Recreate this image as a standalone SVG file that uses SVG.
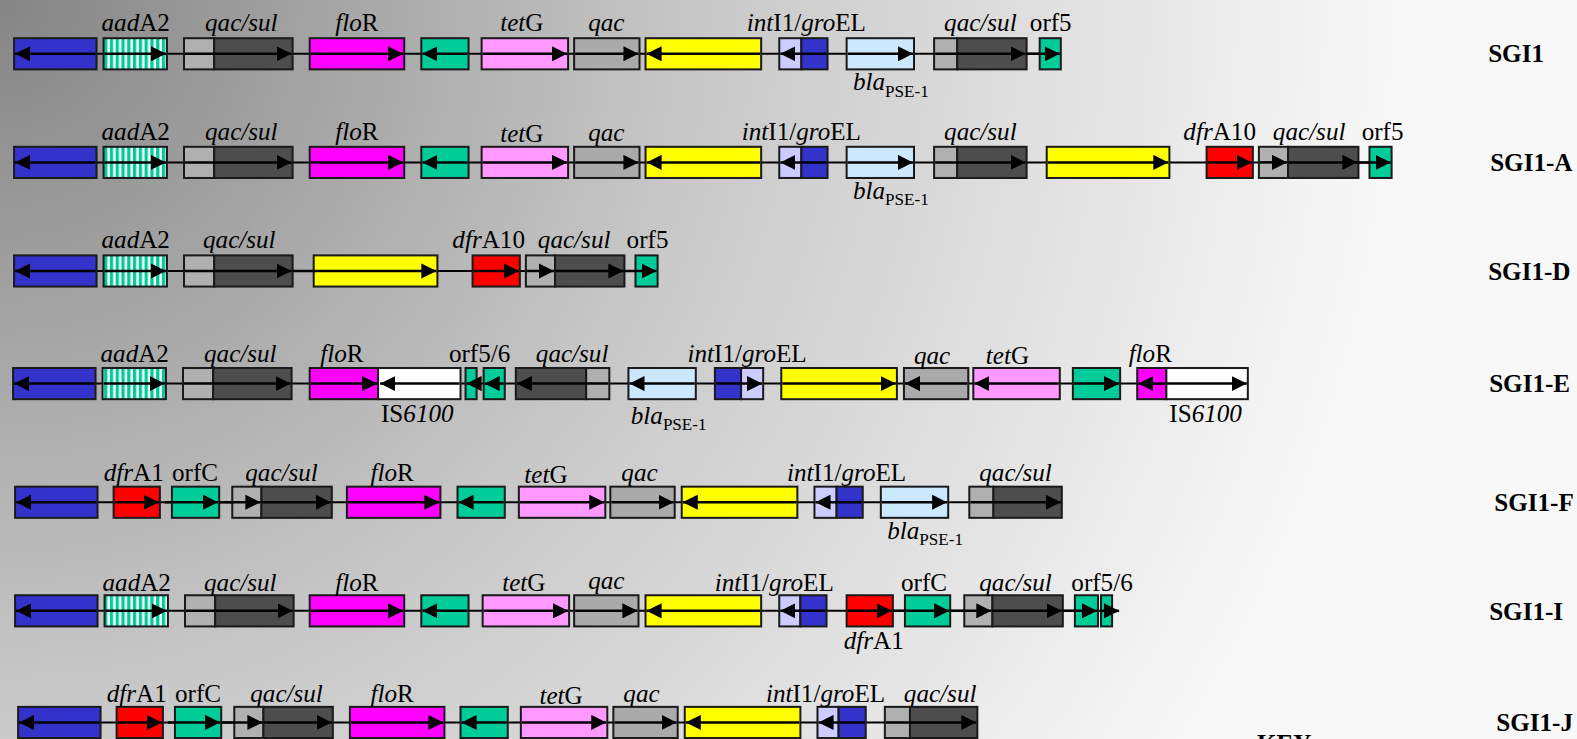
<svg xmlns="http://www.w3.org/2000/svg" width="1577" height="739" viewBox="0 0 1577 739">
<defs>
<radialGradient id="bg" gradientUnits="userSpaceOnUse" cx="0" cy="0" r="1400">
<stop offset="0" stop-color="#858585"/><stop offset="0.5" stop-color="#c8c8c8"/><stop offset="1" stop-color="#f8f8f8"/>
</radialGradient>
<pattern id="stripe" width="5.75" height="10" patternUnits="userSpaceOnUse"><rect width="5.75" height="10" fill="#fff"/><rect width="3.3" height="10" fill="#00cc99"/></pattern>
<marker id="ah" markerUnits="userSpaceOnUse" markerWidth="15" markerHeight="15" viewBox="0 0 15 15" refX="15" refY="7.5" orient="auto"><path d="M0,0 L15,7.5 L0,15 z" fill="#000"/></marker>
<style>
.bx{stroke:#1a1a1a;stroke-width:2}
.blue{fill:#3333cc}.st{fill:url(#stripe)}.lg{fill:#b0b0b0}.dg{fill:#4d4d4d}.mg{fill:#ff00ff}.tl{fill:#00cc99}.pk{fill:#ff99ff}.gy{fill:#aaaaaa}.yl{fill:#ffff00}.lv{fill:#ccccff}.lb{fill:#cce8ff}.rd{fill:#ff0000}.wh{fill:#ffffff}
.bb{stroke:#000;stroke-width:2}
.ar{stroke:#000;stroke-width:2.5;marker-end:url(#ah)}
.t{font-family:"Liberation Serif","Times New Roman",serif;font-size:25px;text-anchor:middle;fill:#000}
.it{font-style:italic}
.sg{font-family:"Liberation Serif","Times New Roman",serif;font-size:25px;font-weight:bold;fill:#000}
.sub{font-size:17px;font-style:normal}
</style>
</defs>
<rect width="1577" height="739" fill="url(#bg)"/>
<g transform="scale(1.0055)">
<g id="connectors">
<line class="bb" x1="14" y1="53.5" x2="1055" y2="53.5"/>
<line class="bb" x1="14" y1="161.5" x2="1384" y2="161.5"/>
<line class="bb" x1="14" y1="269.5" x2="654" y2="269.5"/>
<line class="bb" x1="13" y1="381.5" x2="1241" y2="381.5"/>
<line class="bb" x1="15" y1="499.5" x2="1056" y2="499.5"/>
<line class="bb" x1="15" y1="607.5" x2="1106" y2="607.5"/>
<line class="bb" x1="18" y1="718.5" x2="972" y2="718.5"/>
</g>

<!-- Row 1 SGI1 -->
<g id="r1-g1"><rect class="bx blue" x="14" y="38" width="82" height="31"/><line class="ar" x1="95" y1="53.5" x2="15" y2="53.5"/></g>
<g id="r1-aadA2"><rect class="bx st" x="103" y="38" width="63" height="31"/><line class="ar" x1="104" y1="53.5" x2="165" y2="53.5"/><text class="t" x="135" y="31"><tspan class="it">aad</tspan>A2</text></g>
<g id="r1-qacsul"><rect class="bx lg" x="183" y="38" width="30" height="31"/><rect class="bx dg" x="213" y="38" width="78" height="31"/><line class="ar" x1="184" y1="53.5" x2="290" y2="53.5"/><text class="t it" x="240" y="31">qac/sul</text></g>
<g id="r1-floR"><rect class="bx mg" x="308" y="38" width="94" height="31"/><line class="ar" x1="309" y1="53.5" x2="401" y2="53.5"/><text class="t" x="355" y="31"><tspan class="it">flo</tspan>R</text></g>
<g id="r1-teal"><rect class="bx tl" x="419" y="38" width="47" height="31"/><line class="ar" x1="465" y1="53.5" x2="420" y2="53.5"/></g>
<g id="r1-tetG"><rect class="bx pk" x="479" y="38" width="86" height="31"/><line class="ar" x1="480" y1="53.5" x2="564" y2="53.5"/><text class="t" x="519" y="31"><tspan class="it">tet</tspan>G</text></g>
<g id="r1-qac"><rect class="bx gy" x="571" y="38" width="65" height="31"/><line class="ar" x1="572" y1="53.5" x2="635" y2="53.5"/><text class="t it" x="603" y="31">qac</text></g>
<g id="r1-yellow"><rect class="bx yl" x="642" y="38" width="115" height="31"/><line class="ar" x1="756" y1="53.5" x2="643" y2="53.5"/></g>
<g id="r1-intI1"><rect class="bx lv" x="775" y="38" width="22" height="31"/><rect class="bx blue" x="797" y="38" width="26" height="31"/><line class="ar" x1="822" y1="53.5" x2="776" y2="53.5"/><text class="t" x="802" y="31"><tspan class="it">int</tspan>I1/<tspan class="it">gro</tspan>EL</text></g>
<g id="r1-bla"><rect class="bx lb" x="842" y="38" width="67" height="31"/><line class="ar" x1="843" y1="53.5" x2="908" y2="53.5"/><text class="t" x="886" y="90"><tspan class="it">bla</tspan><tspan class="sub" dy="6">PSE-1</tspan></text></g>
<g id="r1-qacsul2"><rect class="bx lg" x="929" y="38" width="23" height="31"/><rect class="bx dg" x="952" y="38" width="69" height="31"/><line class="ar" x1="930" y1="53.5" x2="1020" y2="53.5"/><text class="t it" x="975" y="31">qac/sul</text></g>
<g id="r1-orf5"><rect class="bx tl" x="1034" y="38" width="21" height="31"/><line class="ar" x1="1020" y1="53.5" x2="1054" y2="53.5"/><text class="t" x="1045" y="31">orf5</text></g>
<text class="sg" x="1480" y="62">SGI1</text>

<!-- Row 2 SGI1-A -->
<g id="r2-g1"><rect class="bx blue" x="14" y="146" width="82" height="31"/><line class="ar" x1="95" y1="161.5" x2="15" y2="161.5"/></g>
<g id="r2-aadA2"><rect class="bx st" x="103" y="146" width="63" height="31"/><line class="ar" x1="104" y1="161.5" x2="165" y2="161.5"/><text class="t" x="135" y="139"><tspan class="it">aad</tspan>A2</text></g>
<g id="r2-qacsul"><rect class="bx lg" x="183" y="146" width="30" height="31"/><rect class="bx dg" x="213" y="146" width="78" height="31"/><line class="ar" x1="184" y1="161.5" x2="290" y2="161.5"/><text class="t it" x="240" y="139">qac/sul</text></g>
<g id="r2-floR"><rect class="bx mg" x="308" y="146" width="94" height="31"/><line class="ar" x1="309" y1="161.5" x2="401" y2="161.5"/><text class="t" x="355" y="139"><tspan class="it">flo</tspan>R</text></g>
<g id="r2-teal"><rect class="bx tl" x="419" y="146" width="47" height="31"/><line class="ar" x1="465" y1="161.5" x2="420" y2="161.5"/></g>
<g id="r2-tetG"><rect class="bx pk" x="479" y="146" width="86" height="31"/><line class="ar" x1="480" y1="161.5" x2="564" y2="161.5"/><text class="t" x="519" y="141"><tspan class="it">tet</tspan>G</text></g>
<g id="r2-qac"><rect class="bx gy" x="571" y="146" width="65" height="31"/><line class="ar" x1="572" y1="161.5" x2="635" y2="161.5"/><text class="t it" x="603" y="140">qac</text></g>
<g id="r2-yellow"><rect class="bx yl" x="642" y="146" width="115" height="31"/><line class="ar" x1="756" y1="161.5" x2="643" y2="161.5"/></g>
<g id="r2-intI1"><rect class="bx lv" x="775" y="146" width="22" height="31"/><rect class="bx blue" x="797" y="146" width="26" height="31"/><line class="ar" x1="822" y1="161.5" x2="776" y2="161.5"/><text class="t" x="797" y="139"><tspan class="it">int</tspan>I1/<tspan class="it">gro</tspan>EL</text></g>
<g id="r2-bla"><rect class="bx lb" x="842" y="146" width="67" height="31"/><line class="ar" x1="843" y1="161.5" x2="908" y2="161.5"/><text class="t" x="886" y="198"><tspan class="it">bla</tspan><tspan class="sub" dy="6">PSE-1</tspan></text></g>
<g id="r2-qacsul2"><rect class="bx lg" x="929" y="146" width="23" height="31"/><rect class="bx dg" x="952" y="146" width="69" height="31"/><line class="ar" x1="930" y1="161.5" x2="1020" y2="161.5"/><text class="t it" x="975" y="139">qac/sul</text></g>
<g id="r2-yellow2"><rect class="bx yl" x="1041" y="146" width="122" height="31"/><line class="ar" x1="1042" y1="161.5" x2="1162" y2="161.5"/></g>
<g id="r2-dfrA10"><rect class="bx rd" x="1200" y="146" width="46" height="31"/><line class="ar" x1="1201" y1="161.5" x2="1245" y2="161.5"/><text class="t" x="1213" y="139"><tspan class="it">dfr</tspan>A10</text></g>
<g id="r2-qacsul3"><rect class="bx lg" x="1252" y="146" width="29" height="31"/><rect class="bx dg" x="1281" y="146" width="70" height="31"/><line class="ar" x1="1253" y1="161.5" x2="1280" y2="161.5"/><line class="ar" x1="1281" y1="161.5" x2="1350" y2="161.5"/><text class="t it" x="1302" y="139">qac/sul</text></g>
<g id="r2-orf5"><rect class="bx tl" x="1362" y="146" width="22" height="31"/><line class="ar" x1="1350" y1="161.5" x2="1383" y2="161.5"/><text class="t" x="1375" y="139">orf5</text></g>
<text class="sg" x="1482" y="170">SGI1-A</text>

<!-- Row 3 SGI1-D -->
<g id="r3-g1"><rect class="bx blue" x="14" y="254" width="82" height="31"/><line class="ar" x1="95" y1="269.5" x2="15" y2="269.5"/></g>
<g id="r3-aadA2"><rect class="bx st" x="103" y="254" width="63" height="31"/><line class="ar" x1="104" y1="269.5" x2="165" y2="269.5"/><text class="t" x="135" y="247"><tspan class="it">aad</tspan>A2</text></g>
<g id="r3-qacsul"><rect class="bx lg" x="183" y="254" width="30" height="31"/><rect class="bx dg" x="213" y="254" width="78" height="31"/><line class="ar" x1="184" y1="269.5" x2="290" y2="269.5"/><text class="t it" x="238" y="247">qac/sul</text></g>
<g id="r3-yellow"><rect class="bx yl" x="312" y="254" width="123" height="31"/><line class="ar" x1="291" y1="269.5" x2="434" y2="269.5"/></g>
<g id="r3-dfrA10"><rect class="bx rd" x="470" y="254" width="47" height="31"/><line class="ar" x1="471" y1="269.5" x2="516" y2="269.5"/><text class="t" x="486" y="247"><tspan class="it">dfr</tspan>A10</text></g>
<g id="r3-qacsul2"><rect class="bx lg" x="523" y="254" width="29" height="31"/><rect class="bx dg" x="552" y="254" width="69" height="31"/><line class="ar" x1="524" y1="269.5" x2="551" y2="269.5"/><line class="ar" x1="552" y1="269.5" x2="620" y2="269.5"/><text class="t it" x="571" y="247">qac/sul</text></g>
<g id="r3-orf5"><rect class="bx tl" x="632" y="254" width="22" height="31"/><line class="ar" x1="620" y1="269.5" x2="653" y2="269.5"/><text class="t" x="644" y="247">orf5</text></g>
<text class="sg" x="1480" y="278">SGI1-D</text>

<!-- Row 4 SGI1-E -->
<g id="r4-g1"><rect class="bx blue" x="13" y="366" width="82" height="31"/><line class="ar" x1="94" y1="381.5" x2="14" y2="381.5"/></g>
<g id="r4-aadA2"><rect class="bx st" x="102" y="366" width="63" height="31"/><line class="ar" x1="103" y1="381.5" x2="164" y2="381.5"/><text class="t" x="134" y="360"><tspan class="it">aad</tspan>A2</text></g>
<g id="r4-qacsul"><rect class="bx lg" x="182" y="366" width="30" height="31"/><rect class="bx dg" x="212" y="366" width="78" height="31"/><line class="ar" x1="183" y1="381.5" x2="289" y2="381.5"/><text class="t it" x="239" y="360">qac/sul</text></g>
<g id="r4-floR"><rect class="bx mg" x="308" y="366" width="68" height="31"/><line class="ar" x1="309" y1="381.5" x2="375" y2="381.5"/><text class="t" x="340" y="360"><tspan class="it">flo</tspan>R</text></g>
<g id="r4-IS6100"><rect class="bx wh" x="376" y="366" width="82" height="31"/><line class="ar" x1="457" y1="381.5" x2="378" y2="381.5"/><text class="t" x="415" y="420">IS<tspan class="it">6100</tspan></text></g>
<g id="r4-orf56"><rect class="bx tl" x="463" y="366" width="11" height="31"/><rect class="bx tl" x="481" y="366" width="21" height="31"/><line class="ar" x1="476" y1="381.5" x2="464" y2="381.5"/><line class="ar" x1="501" y1="381.5" x2="482" y2="381.5"/><text class="t" x="477" y="360">orf5/6</text></g>
<g id="r4-qacsul2"><rect class="bx dg" x="513" y="366" width="70" height="31"/><rect class="bx lg" x="583" y="366" width="23" height="31"/><line class="ar" x1="605" y1="381.5" x2="514" y2="381.5"/><text class="t it" x="569" y="360">qac/sul</text></g>
<g id="r4-bla"><rect class="bx lb" x="625" y="366" width="67" height="31"/><line class="ar" x1="691" y1="381.5" x2="626" y2="381.5"/><text class="t" x="665" y="422"><tspan class="it">bla</tspan><tspan class="sub" dy="6">PSE-1</tspan></text></g>
<g id="r4-intI1"><rect class="bx blue" x="711" y="366" width="26" height="31"/><rect class="bx lv" x="737" y="366" width="22" height="31"/><line class="ar" x1="712" y1="381.5" x2="758" y2="381.5"/><text class="t" x="743" y="360"><tspan class="it">int</tspan>I1/<tspan class="it">gro</tspan>EL</text></g>
<g id="r4-yellow"><rect class="bx yl" x="777" y="366" width="115" height="31"/><line class="ar" x1="778" y1="381.5" x2="891" y2="381.5"/></g>
<g id="r4-qac"><rect class="bx gy" x="899" y="366" width="64" height="31"/><line class="ar" x1="962" y1="381.5" x2="900" y2="381.5"/><text class="t it" x="927" y="362">qac</text></g>
<g id="r4-tetG"><rect class="bx pk" x="968" y="366" width="86" height="31"/><line class="ar" x1="1053" y1="381.5" x2="969" y2="381.5"/><text class="t" x="1002" y="362"><tspan class="it">tet</tspan>G</text></g>
<g id="r4-teal"><rect class="bx tl" x="1067" y="366" width="47" height="31"/><line class="ar" x1="1068" y1="381.5" x2="1113" y2="381.5"/></g>
<g id="r4-floR2"><rect class="bx mg" x="1131" y="366" width="29" height="31"/><rect class="bx wh" x="1160" y="366" width="81" height="31"/><line class="ar" x1="1159" y1="381.5" x2="1132" y2="381.5"/><line class="ar" x1="1160" y1="381.5" x2="1240" y2="381.5"/><text class="t" x="1144" y="360"><tspan class="it">flo</tspan>R</text><text class="t" x="1199" y="420">IS<tspan class="it">6100</tspan></text></g>
<text class="sg" x="1481" y="390">SGI1-E</text>

<!-- Row 5 SGI1-F -->
<g id="r5-g1"><rect class="bx blue" x="15" y="484" width="82" height="31"/><line class="ar" x1="96" y1="499.5" x2="16" y2="499.5"/></g>
<g id="r5-dfrA1"><rect class="bx rd" x="113" y="484" width="46" height="31"/><line class="ar" x1="114" y1="499.5" x2="158" y2="499.5"/><text class="t" x="133" y="478"><tspan class="it">dfr</tspan>A1</text></g>
<g id="r5-orfC"><rect class="bx tl" x="171" y="484" width="47" height="31"/><line class="ar" x1="164" y1="499.5" x2="217" y2="499.5"/><text class="t" x="194" y="478">orfC</text></g>
<g id="r5-qacsul"><rect class="bx lg" x="231" y="484" width="29" height="31"/><rect class="bx dg" x="260" y="484" width="70" height="31"/><line class="ar" x1="218" y1="499.5" x2="259" y2="499.5"/><line class="ar" x1="260" y1="499.5" x2="329" y2="499.5"/><text class="t it" x="280" y="478">qac/sul</text></g>
<g id="r5-floR"><rect class="bx mg" x="345" y="484" width="93" height="31"/><line class="ar" x1="346" y1="499.5" x2="437" y2="499.5"/><text class="t" x="390" y="478"><tspan class="it">flo</tspan>R</text></g>
<g id="r5-teal"><rect class="bx tl" x="455" y="484" width="47" height="31"/><line class="ar" x1="501" y1="499.5" x2="456" y2="499.5"/></g>
<g id="r5-tetG"><rect class="bx pk" x="516" y="484" width="86" height="31"/><line class="ar" x1="517" y1="499.5" x2="601" y2="499.5"/><text class="t" x="543" y="480"><tspan class="it">tet</tspan>G</text></g>
<g id="r5-qac"><rect class="bx gy" x="607" y="484" width="64" height="31"/><line class="ar" x1="608" y1="499.5" x2="670" y2="499.5"/><text class="t it" x="636" y="478">qac</text></g>
<g id="r5-yellow"><rect class="bx yl" x="678" y="484" width="115" height="31"/><line class="ar" x1="792" y1="499.5" x2="679" y2="499.5"/></g>
<g id="r5-intI1"><rect class="bx lv" x="810" y="484" width="22" height="31"/><rect class="bx blue" x="832" y="484" width="26" height="31"/><line class="ar" x1="857" y1="499.5" x2="811" y2="499.5"/><text class="t" x="842" y="478"><tspan class="it">int</tspan>I1/<tspan class="it">gro</tspan>EL</text></g>
<g id="r5-bla"><rect class="bx lb" x="876" y="484" width="67" height="31"/><line class="ar" x1="877" y1="499.5" x2="942" y2="499.5"/><text class="t" x="920" y="536"><tspan class="it">bla</tspan><tspan class="sub" dy="6">PSE-1</tspan></text></g>
<g id="r5-qacsul2"><rect class="bx lg" x="964" y="484" width="24" height="31"/><rect class="bx dg" x="988" y="484" width="68" height="31"/><line class="ar" x1="965" y1="499.5" x2="1055" y2="499.5"/><text class="t it" x="1010" y="478">qac/sul</text></g>
<text class="sg" x="1486" y="508">SGI1-F</text>

<!-- Row 6 SGI1-I -->
<g id="r6-g1"><rect class="bx blue" x="15" y="592" width="82" height="31"/><line class="ar" x1="96" y1="607.5" x2="16" y2="607.5"/></g>
<g id="r6-aadA2"><rect class="bx st" x="104" y="592" width="63" height="31"/><line class="ar" x1="105" y1="607.5" x2="166" y2="607.5"/><text class="t" x="136" y="588"><tspan class="it">aad</tspan>A2</text></g>
<g id="r6-qacsul"><rect class="bx lg" x="184" y="592" width="30" height="31"/><rect class="bx dg" x="214" y="592" width="78" height="31"/><line class="ar" x1="185" y1="607.5" x2="291" y2="607.5"/><text class="t it" x="239" y="588">qac/sul</text></g>
<g id="r6-floR"><rect class="bx mg" x="308" y="592" width="94" height="31"/><line class="ar" x1="309" y1="607.5" x2="401" y2="607.5"/><text class="t" x="355" y="588"><tspan class="it">flo</tspan>R</text></g>
<g id="r6-teal"><rect class="bx tl" x="419" y="592" width="47" height="31"/><line class="ar" x1="465" y1="607.5" x2="420" y2="607.5"/></g>
<g id="r6-tetG"><rect class="bx pk" x="480" y="592" width="86" height="31"/><line class="ar" x1="481" y1="607.5" x2="565" y2="607.5"/><text class="t" x="521" y="588"><tspan class="it">tet</tspan>G</text></g>
<g id="r6-qac"><rect class="bx gy" x="571" y="592" width="64" height="31"/><line class="ar" x1="572" y1="607.5" x2="634" y2="607.5"/><text class="t it" x="603" y="586">qac</text></g>
<g id="r6-yellow"><rect class="bx yl" x="642" y="592" width="115" height="31"/><line class="ar" x1="756" y1="607.5" x2="643" y2="607.5"/></g>
<g id="r6-intI1"><rect class="bx lv" x="775" y="592" width="21" height="31"/><rect class="bx blue" x="796" y="592" width="26" height="31"/><line class="ar" x1="821" y1="607.5" x2="776" y2="607.5"/><text class="t" x="770" y="588"><tspan class="it">int</tspan>I1/<tspan class="it">gro</tspan>EL</text></g>
<g id="r6-dfrA1"><rect class="bx rd" x="842" y="592" width="46" height="31"/><line class="ar" x1="843" y1="607.5" x2="887" y2="607.5"/><text class="t" x="869" y="645"><tspan class="it">dfr</tspan>A1</text></g>
<g id="r6-orfC"><rect class="bx tl" x="900" y="592" width="45" height="31"/><line class="ar" x1="888" y1="607.5" x2="944" y2="607.5"/><text class="t" x="919" y="588">orfC</text></g>
<g id="r6-qacsul2"><rect class="bx lg" x="959" y="592" width="28" height="31"/><rect class="bx dg" x="987" y="592" width="70" height="31"/><line class="ar" x1="945" y1="607.5" x2="986" y2="607.5"/><line class="ar" x1="987" y1="607.5" x2="1056" y2="607.5"/><text class="t it" x="1010" y="588">qac/sul</text></g>
<g id="r6-orf56"><rect class="bx tl" x="1069" y="592" width="23" height="31"/><rect class="bx tl" x="1095" y="592" width="11" height="31"/><line class="ar" x1="1057" y1="607.5" x2="1091" y2="607.5"/><line class="ar" x1="1094" y1="607.5" x2="1113" y2="607.5"/><text class="t" x="1096" y="588">orf5/6</text></g>
<text class="sg" x="1481" y="617">SGI1-I</text>

<!-- Row 7 SGI1-J -->
<g id="r7-g1"><rect class="bx blue" x="18" y="703" width="82" height="31"/><line class="ar" x1="99" y1="718.5" x2="19" y2="718.5"/></g>
<g id="r7-dfrA1"><rect class="bx rd" x="116" y="703" width="46" height="31"/><line class="ar" x1="117" y1="718.5" x2="161" y2="718.5"/><text class="t" x="136" y="698"><tspan class="it">dfr</tspan>A1</text></g>
<g id="r7-orfC"><rect class="bx tl" x="174" y="703" width="46" height="31"/><line class="ar" x1="167" y1="718.5" x2="219" y2="718.5"/><text class="t" x="197" y="698">orfC</text></g>
<g id="r7-qacsul"><rect class="bx lg" x="233" y="703" width="29" height="31"/><rect class="bx dg" x="262" y="703" width="69" height="31"/><line class="ar" x1="220" y1="718.5" x2="261" y2="718.5"/><line class="ar" x1="262" y1="718.5" x2="330" y2="718.5"/><text class="t it" x="285" y="698">qac/sul</text></g>
<g id="r7-floR"><rect class="bx mg" x="348" y="703" width="94" height="31"/><line class="ar" x1="349" y1="718.5" x2="441" y2="718.5"/><text class="t" x="390" y="698"><tspan class="it">flo</tspan>R</text></g>
<g id="r7-teal"><rect class="bx tl" x="458" y="703" width="47" height="31"/><line class="ar" x1="504" y1="718.5" x2="459" y2="718.5"/></g>
<g id="r7-tetG"><rect class="bx pk" x="518" y="703" width="86" height="31"/><line class="ar" x1="519" y1="718.5" x2="603" y2="718.5"/><text class="t" x="558" y="700"><tspan class="it">tet</tspan>G</text></g>
<g id="r7-qac"><rect class="bx gy" x="610" y="703" width="64" height="31"/><line class="ar" x1="611" y1="718.5" x2="673" y2="718.5"/><text class="t it" x="638" y="698">qac</text></g>
<g id="r7-yellow"><rect class="bx yl" x="681" y="703" width="115" height="31"/><line class="ar" x1="795" y1="718.5" x2="682" y2="718.5"/></g>
<g id="r7-intI1"><rect class="bx lv" x="813" y="703" width="21" height="31"/><rect class="bx blue" x="834" y="703" width="27" height="31"/><line class="ar" x1="860" y1="718.5" x2="814" y2="718.5"/><text class="t" x="821" y="698"><tspan class="it">int</tspan>I1/<tspan class="it">gro</tspan>EL</text></g>
<g id="r7-qacsul2"><rect class="bx lg" x="880" y="703" width="25" height="31"/><rect class="bx dg" x="905" y="703" width="67" height="31"/><line class="ar" x1="881" y1="718.5" x2="971" y2="718.5"/><text class="t it" x="935" y="698">qac/sul</text></g>
<text class="sg" x="1488" y="727">SGI1-J</text>
<text class="sg" x="1250" y="748">KEY</text>
</g>
</svg>
